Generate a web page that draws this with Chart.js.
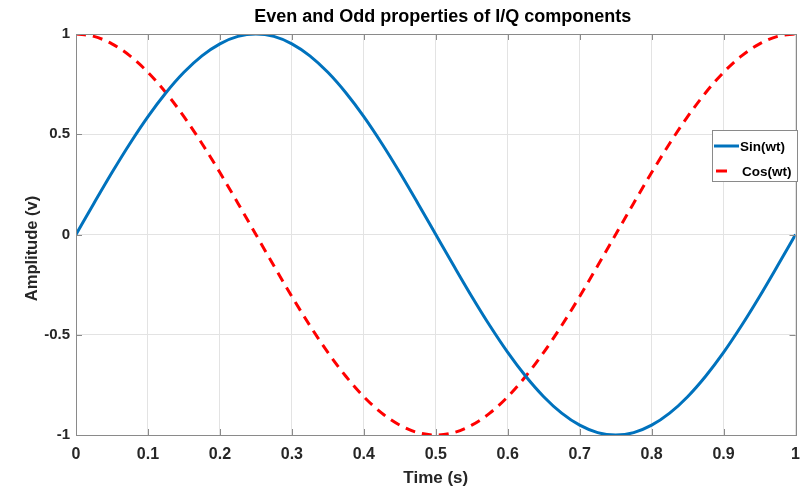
<!DOCTYPE html>
<html>
<head>
<meta charset="utf-8">
<script src="https://cdn.jsdelivr.net/npm/chart.js@4.4.1/dist/chart.umd.min.js"></script>
<style>
html,body{margin:0;padding:0;background:#fff;}
#wrap{width:810px;height:491px;position:relative;}
</style>
</head>
<body>
<div id="wrap"><canvas id="c" width="810" height="491"></canvas></div>
<script>
const chartTitle = "Even and Odd properties of I/Q components";
const xLabel = "Time (s)";
const yLabel = "Amplitude (v)";
const seriesNames = ["Sin(wt)", "Cos(wt)"];
const timeValues = [0,0.025,0.05,0.075,0.1,0.125,0.15,0.175,0.2,0.225,0.25,0.275,0.3,0.325,0.35,0.375,0.4,0.425,0.45,0.475,0.5,0.525,0.55,0.575,0.6,0.625,0.65,0.675,0.7,0.725,0.75,0.775,0.8,0.825,0.85,0.875,0.9,0.925,0.95,0.975,1];
const sinValues = [0,0.156,0.309,0.454,0.588,0.707,0.809,0.891,0.951,0.988,1,0.988,0.951,0.891,0.809,0.707,0.588,0.454,0.309,0.156,0,-0.156,-0.309,-0.454,-0.588,-0.707,-0.809,-0.891,-0.951,-0.988,-1,-0.988,-0.951,-0.891,-0.809,-0.707,-0.588,-0.454,-0.309,-0.156,0];
const cosValues = [1,0.988,0.951,0.891,0.809,0.707,0.588,0.454,0.309,0.156,0,-0.156,-0.309,-0.454,-0.588,-0.707,-0.809,-0.891,-0.951,-0.988,-1,-0.988,-0.951,-0.891,-0.809,-0.707,-0.588,-0.454,-0.309,-0.156,0,0.156,0.309,0.454,0.588,0.707,0.809,0.891,0.951,0.988,1];
const xTicks = [0,0.1,0.2,0.3,0.4,0.5,0.6,0.7,0.8,0.9,1];
const yTicks = [-1,-0.5,0,0.5,1];

const FONT = "'Liberation Sans', Arial, sans-serif";
const TXT = "#262626";
const AXIS = "#8a8a8a";
const GRID = "#e3e3e3";
const BLUE = "#0072BD";
const RED = "#FF0000";

const toPts = (ys) => timeValues.map((t, i) => ({x: t, y: ys[i]}));

const framePlugin = {
  id: 'frame',
  afterDraw(chart) {
    const ctx = chart.ctx, a = chart.chartArea;
    const xs = chart.scales.x, ys = chart.scales.y;
    ctx.save();
    ctx.strokeStyle = AXIS; ctx.lineWidth = 1;
    ctx.beginPath();
    xTicks.forEach(v => {
      const px = Math.round(xs.getPixelForValue(v)) + 0.5;
      ctx.moveTo(px, a.bottom); ctx.lineTo(px, a.bottom - 6);
      ctx.moveTo(px, a.top); ctx.lineTo(px, a.top + 6);
    });
    yTicks.forEach(v => {
      const py = Math.round(ys.getPixelForValue(v)) + 0.5;
      ctx.moveTo(a.left, py); ctx.lineTo(a.left + 6, py);
      ctx.moveTo(a.right, py); ctx.lineTo(a.right - 6, py);
    });
    ctx.stroke();
    ctx.strokeRect(Math.round(a.left) + 0.5, Math.round(a.top) + 0.5, Math.round(a.right - a.left), Math.round(a.bottom - a.top));
    // title
    ctx.fillStyle = "#000";
    ctx.font = "bold 18px " + FONT;
    ctx.textAlign = "center"; ctx.textBaseline = "middle";
    ctx.fillText(chartTitle, (a.left + a.right) / 2 + 7, 17);
    // y-axis title
    ctx.save();
    ctx.translate(32, (a.top + a.bottom) / 2 + 14);
    ctx.rotate(-Math.PI / 2);
    ctx.fillStyle = TXT;
    ctx.font = "bold 16.5px " + FONT;
    ctx.fillText(yLabel, 0, 0);
    ctx.restore();
    // legend
    const lx = 712, ly = 130, lw = 85, lh = 51;
    ctx.fillStyle = "#fff";
    ctx.fillRect(lx, ly, lw, lh);
    ctx.strokeStyle = AXIS; ctx.lineWidth = 1;
    ctx.strokeRect(lx + 0.5, ly + 0.5, lw, lh);
    ctx.lineWidth = 3;
    ctx.strokeStyle = BLUE;
    ctx.beginPath(); ctx.moveTo(714, 146); ctx.lineTo(739, 146); ctx.stroke();
    ctx.strokeStyle = RED;
    ctx.beginPath(); ctx.moveTo(716, 171); ctx.lineTo(727, 171); ctx.stroke();
    ctx.fillStyle = "#000";
    ctx.font = "bold 13.5px " + FONT;
    ctx.textAlign = "left"; ctx.textBaseline = "middle";
    ctx.fillText(seriesNames[0], 740, 147);
    ctx.fillText(seriesNames[1], 742, 172);
    ctx.restore();
  }
};

new Chart(document.getElementById('c'), {
  type: 'line',
  data: {
    datasets: [
      {label: seriesNames[0], data: toPts(sinValues), borderColor: BLUE, borderWidth: 3, pointRadius: 0, cubicInterpolationMode: 'monotone', fill: false},
      {label: seriesNames[1], data: toPts(cosValues), borderColor: RED, borderWidth: 3, borderDash: [10, 7], pointRadius: 0, cubicInterpolationMode: 'monotone', fill: false}
    ]
  },
  options: {
    responsive: false,
    animation: false,
    layout: {padding: {top: 34, right: 13, left: 0, bottom: 0}},
    plugins: {legend: {display: false}, title: {display: false}, tooltip: {enabled: false}},
    scales: {
      x: {
        type: 'linear', min: 0, max: 1,
        afterBuildTicks: (s) => { s.ticks = xTicks.map(v => ({value: v})); },
        afterFit: (s) => { s.height = 56; },
        grid: {color: GRID, drawTicks: false, lineWidth: 1},
        border: {display: false},
        ticks: {color: TXT, font: {family: FONT, size: 16, weight: 'bold'}, padding: 10, maxRotation: 0,
          callback: (v) => String(v)},
        title: {display: true, text: xLabel, color: TXT, font: {family: FONT, size: 17, weight: 'bold'}, padding: {top: 0, bottom: 2}}
      },
      y: {
        type: 'linear', min: -1, max: 1,
        afterBuildTicks: (s) => { s.ticks = yTicks.map(v => ({value: v})); },
        afterFit: (s) => { s.width = 76; },
        grid: {color: GRID, drawTicks: false, lineWidth: 1},
        border: {display: false},
        ticks: {color: TXT, font: {family: FONT, size: 15, weight: 'bold'}, padding: 6,
          callback: (v) => String(v)},
        title: {display: false, text: yLabel}
      }
    }
  },
  plugins: [framePlugin]
});
</script>
</body>
</html>
